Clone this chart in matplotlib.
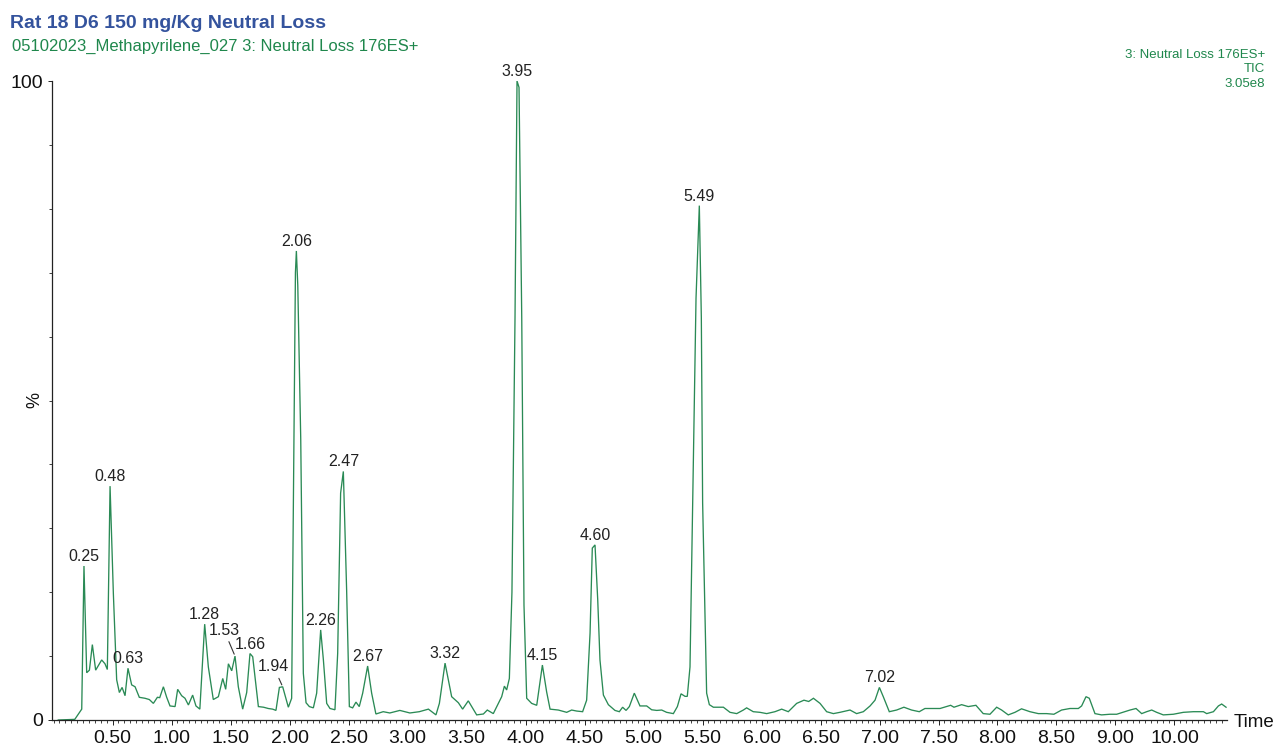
"""Neutral Loss 176ES+ 色谱图复现 (Rat 18 D6 150 mg/Kg)。"""

import matplotlib

matplotlib.use("Agg")

import matplotlib.pyplot as plt
from matplotlib.ticker import FixedLocator, MultipleLocator
import numpy as np

plt.rcParams["font.family"] = ["Liberation Sans", "DejaVu Sans"]

# 保留时间 (min) 和相对强度 (%)，从原图逐点读取
rt_min = [
    0.04, 0.18, 0.239, 0.258, 0.281, 0.304, 0.329, 0.357, 0.408, 0.436,
    0.456, 0.479, 0.507, 0.535, 0.558, 0.581, 0.606, 0.631, 0.662, 0.691,
    0.727, 0.775, 0.812, 0.846, 0.88, 0.90, 0.931, 0.959, 0.987, 1.03,
    1.052, 1.086, 1.114, 1.143, 1.179, 1.207, 1.24, 1.281, 1.312, 1.354,
    1.397, 1.434, 1.459, 1.482, 1.51, 1.538, 1.566, 1.603, 1.637, 1.665,
    1.688, 1.736, 1.78, 1.82, 1.857, 1.885, 1.914, 1.942, 1.99, 2.018,
    2.038, 2.05, 2.058, 2.07, 2.095, 2.117, 2.14, 2.168, 2.202, 2.23,
    2.264, 2.287, 2.315, 2.343, 2.385, 2.408, 2.433, 2.456, 2.484, 2.507,
    2.535, 2.563, 2.591, 2.62, 2.662, 2.696, 2.732, 2.794, 2.85, 2.935,
    3.02, 3.1, 3.177, 3.241, 3.27, 3.318, 3.374, 3.431, 3.467, 3.515,
    3.586, 3.643, 3.676, 3.727, 3.798, 3.821, 3.84, 3.863, 3.885, 3.911,
    3.928, 3.945, 3.968, 3.987, 4.01, 4.052, 4.095, 4.143, 4.179, 4.208,
    4.278, 4.349, 4.391, 4.434, 4.484, 4.518, 4.547, 4.566, 4.589, 4.612,
    4.631, 4.66, 4.702, 4.758, 4.795, 4.823, 4.852, 4.88, 4.922, 4.97,
    5.027, 5.069, 5.112, 5.154, 5.196, 5.253, 5.287, 5.318, 5.352, 5.371,
    5.394, 5.417, 5.445, 5.473, 5.49, 5.501, 5.535, 5.558, 5.592, 5.648,
    5.677, 5.733, 5.79, 5.846, 5.874, 5.93, 5.987, 6.044, 6.114, 6.171,
    6.227, 6.298, 6.36, 6.40, 6.44, 6.496, 6.552, 6.609, 6.665, 6.75,
    6.806, 6.863, 6.92, 6.962, 6.999, 7.032, 7.083, 7.145, 7.207, 7.272,
    7.337, 7.385, 7.513, 7.603, 7.631, 7.696, 7.752, 7.817, 7.879, 7.936,
    7.993, 8.035, 8.091, 8.148, 8.204, 8.275, 8.346, 8.416, 8.478, 8.543,
    8.614, 8.685, 8.713, 8.75, 8.778, 8.826, 8.882, 8.953, 9.01, 9.08,
    9.123, 9.174, 9.222, 9.264, 9.307, 9.349, 9.405, 9.49, 9.575, 9.66,
    9.745, 9.773, 9.83, 9.872, 9.9, 9.937,
]
intensity_pct = [
    0.0, 0.1, 1.7, 24.1, 7.4, 7.8, 11.8, 7.8, 9.4, 8.8,
    7.9, 36.6, 19.8, 6.3, 4.3, 5.1, 3.8, 8.1, 5.5, 5.2,
    3.55, 3.4, 3.2, 2.6, 3.55, 3.5, 5.2, 3.55, 2.2, 2.1,
    4.8, 3.8, 3.4, 2.35, 3.9, 2.2, 1.7, 15.0, 8.3, 3.2,
    3.65, 6.5, 4.8, 8.8, 7.7, 10.0, 5.2, 1.7, 4.3, 10.4,
    9.9, 2.1, 2.0, 1.8, 1.7, 1.5, 5.1, 5.2, 2.0, 3.4,
    44.0, 70.0, 73.4, 68.0, 44.0, 7.3, 2.7, 2.1, 1.9, 4.2,
    14.1, 9.4, 2.6, 1.8, 1.6, 10.4, 35.5, 38.9, 20.3, 2.1,
    1.9, 2.8, 2.1, 4.2, 8.45, 4.2, 0.94, 1.3, 1.1, 1.5,
    1.1, 1.3, 1.7, 0.8, 2.6, 8.9, 3.65, 2.7, 1.7, 3.0,
    0.8, 0.94, 1.56, 1.0, 3.65, 5.3, 4.7, 6.5, 20.0, 63.0,
    100.0, 99.0, 63.0, 18.0, 3.4, 2.6, 2.3, 8.6, 4.4, 1.7,
    1.56, 1.2, 1.56, 1.4, 1.3, 3.1, 13.6, 26.9, 27.4, 18.8,
    9.4, 3.9, 2.4, 1.5, 1.3, 2.0, 1.5, 2.1, 4.2, 2.2,
    2.2, 1.6, 1.5, 1.56, 1.2, 1.0, 2.1, 4.1, 3.7, 3.7,
    8.3, 34.0, 66.0, 80.5, 63.0, 34.0, 4.2, 2.4, 2.0, 2.0,
    2.0, 1.2, 1.0, 1.56, 1.9, 1.3, 1.2, 1.0, 1.3, 1.7,
    1.3, 2.6, 3.1, 2.9, 3.4, 2.6, 1.3, 1.0, 1.2, 1.56,
    1.0, 1.3, 2.2, 3.1, 5.1, 3.65, 1.3, 1.56, 2.0, 1.56,
    1.3, 1.8, 1.8, 2.3, 2.0, 2.4, 2.1, 2.3, 1.0, 0.9,
    2.0, 1.56, 0.8, 1.2, 1.75, 1.3, 1.0, 1.0, 0.9, 1.56,
    1.8, 1.8, 2.2, 3.65, 3.4, 1.0, 0.8, 0.9, 0.9, 1.3,
    1.56, 1.8, 1.0, 1.3, 1.56, 1.2, 0.8, 0.9, 1.2, 1.3,
    1.3, 1.0, 1.3, 2.2, 2.5, 2.0,
]

peak_labels = [
    "0.25", "0.48", "0.63", "1.28", "1.53", "1.66", "1.94", "2.06", "2.26",
    "2.47", "2.67", "3.32", "3.95", "4.15", "4.60", "5.49", "7.02",
]

# 原图横轴最后一个刻度标注为 "10.00"（位于 9.50 的位置），照原样保留
x_tick_values = [0.5, 1.0, 1.5, 2.0, 2.5, 3.0, 3.5, 4.0, 4.5, 5.0,
                 5.5, 6.0, 6.5, 7.0, 7.5, 8.0, 8.5, 9.0, 9.5]
x_tick_labels = ["0.50", "1.00", "1.50", "2.00", "2.50", "3.00", "3.50", "4.00",
                 "4.50", "5.00", "5.50", "6.00", "6.50", "7.00", "7.50", "8.00",
                 "8.50", "9.00", "10.00"]

title_text = "Rat 18 D6 150 mg/Kg Neutral Loss"
subtitle_text = "05102023_Methapyrilene_027 3: Neutral Loss 176ES+"
info_lines = ["3: Neutral Loss 176ES+", "TIC", "3.05e8"]

TRACE_GREEN = "#2a8a55"
TEXT_GREEN = "#1f874c"
TITLE_BLUE = "#34539d"

# 带引线的峰标注：文字中心相对峰顶的像素偏移
leader_offsets = {"1.53": (-11, 26), "1.94": (-9, 20)}

W, H = 1279, 748
fig = plt.figure(figsize=(W / 100, H / 100), dpi=100)
ax = fig.add_axes([52 / W, 28 / H, 1175 / W, 639 / H])

rt = np.asarray(rt_min)
inten = np.asarray(intensity_pct)
ax.plot(rt, inten, color=TRACE_GREEN, linewidth=0.95, solid_joinstyle="miter")

ax.set_xlim(-0.013, 9.945)
ax.set_ylim(0, 100)
for side in ("top", "right"):
    ax.spines[side].set_visible(False)
for side in ("left", "bottom"):
    ax.spines[side].set_linewidth(0.9)
    ax.spines[side].set_color("#222222")

ax.xaxis.set_major_locator(FixedLocator(x_tick_values))
ax.set_xticklabels(x_tick_labels)
ax.xaxis.set_minor_locator(MultipleLocator(0.05))
ax.yaxis.set_major_locator(FixedLocator([0, 100]))
ax.set_yticklabels(["0", "100"])
ax.yaxis.set_minor_locator(MultipleLocator(10))
ax.tick_params(axis="x", which="major", direction="out", length=3.4, width=0.7,
               labelsize=14, pad=3.5, color="#222222", labelcolor="#111111")
ax.tick_params(axis="x", which="minor", direction="out", length=1.8, width=0.6,
               color="#222222")
ax.tick_params(axis="y", which="major", direction="out", length=3.0, width=0.7,
               labelsize=14, pad=3.5, color="#222222", labelcolor="#111111")
ax.tick_params(axis="y", which="minor", direction="out", length=2.0, width=0.6,
               color="#222222")

for label in peak_labels:
    t0 = float(label)
    window = np.where(np.abs(rt - t0) <= 0.035)[0]
    idx = window[np.argmax(inten[window])]
    if label in leader_offsets:
        dx, dy = leader_offsets[label]
        ax.annotate(label, xy=(rt[idx], inten[idx]), xytext=(dx, dy),
                    textcoords="offset pixels", ha="center", va="center",
                    fontsize=11.5, color="#222222",
                    arrowprops=dict(arrowstyle="-", color="#333333", lw=0.8,
                                    shrinkA=1, shrinkB=1.5))
    else:
        ax.annotate(label, xy=(rt[idx], inten[idx]), xytext=(0, 5),
                    textcoords="offset pixels", ha="center", va="baseline",
                    fontsize=11.5, color="#222222")

fig.text(10 / W, 1 - 28 / H, title_text, fontsize=14, fontweight="bold",
         color=TITLE_BLUE, va="baseline", ha="left")
fig.text(12 / W, 1 - 51 / H, subtitle_text, fontsize=12, color=TEXT_GREEN,
         va="baseline", ha="left")
for i, line in enumerate(info_lines):
    fig.text(1265 / W, 1 - (58 + 14.5 * i) / H, line, fontsize=9.5,
             color=TEXT_GREEN, va="baseline", ha="right")
fig.text(35 / W, 1 - 400 / H, "%", fontsize=13, rotation=90, color="#111111",
         ha="center", va="center")
fig.text(1234 / W, 1 - 727 / H, "Time", fontsize=13.5, color="#111111",
         ha="left", va="baseline")

fig.savefig("out.png", dpi=100)
plt.close(fig)
